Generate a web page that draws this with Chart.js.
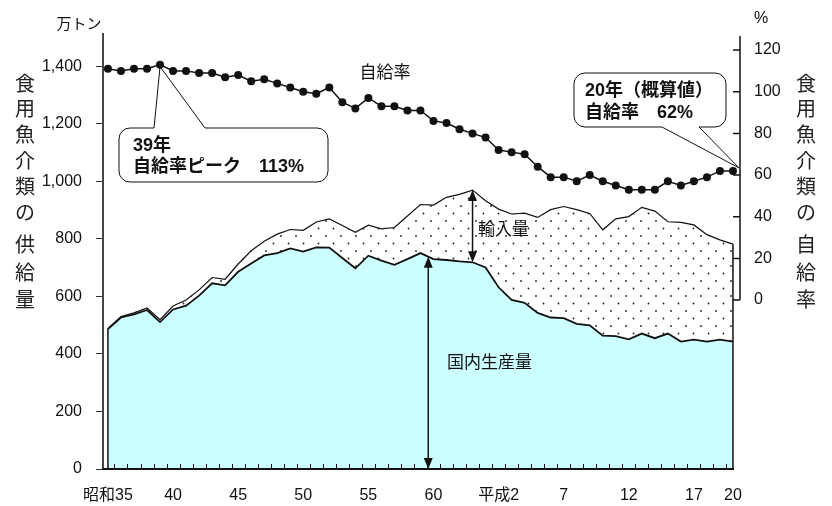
<!DOCTYPE html>
<html>
<head>
<meta charset="utf-8">
<script src="https://cdn.jsdelivr.net/npm/chart.js@4.4.1/dist/chart.umd.min.js"></script>
<style>
  html, body { margin: 0; padding: 0; background: #fff; }
  #wrap { width: 832px; height: 506px; }
</style>
</head>
<body>
<div id="wrap"><canvas id="fishChart" width="832" height="506"></canvas></div>
<script>
// 食用魚介類の供給量（国内生産量＋輸入量）と自給率　昭和35年〜平成20年
const years = [
  1960, 1961, 1962, 1963, 1964, 1965, 1966, 1967, 1968, 1969,
  1970, 1971, 1972, 1973, 1974, 1975, 1976, 1977, 1978, 1979,
  1980, 1981, 1982, 1983, 1984, 1985, 1986, 1987, 1988, 1989,
  1990, 1991, 1992, 1993, 1994, 1995, 1996, 1997, 1998, 1999,
  2000, 2001, 2002, 2003, 2004, 2005, 2006, 2007, 2008
];

// 国内生産量（万トン）
const production = [
  487, 527, 538, 553, 511, 555, 568, 603, 646, 639,
  686, 715, 743, 751, 767, 756, 771, 770, 734, 698,
  742, 725, 710, 730, 751, 730, 727, 722, 719, 701,
  632, 588, 578, 543, 527, 525, 505, 500, 464, 462,
  451, 471, 455, 471, 443, 450, 443, 450, 443
];

// 輸入量（万トン）
const imports = [
  2, 3, 5, 7, 8, 12, 20, 20, 20, 21,
  27, 44, 49, 66, 66, 74, 88, 100, 113, 125,
  106, 110, 130, 150, 169, 188, 218, 233, 251, 232,
  272, 299, 312, 332, 375, 388, 397, 389, 368, 408,
  427, 439, 442, 389, 415, 399, 372, 347, 339
];

// 自給率（％）
const selfRate = [
  111, 110, 111, 111, 113, 110, 110, 109, 109, 107,
  108, 105, 106, 104, 102, 100, 99, 102, 95, 92,
  97, 93, 93, 91, 91, 86, 85, 82, 80, 78,
  72, 71, 70, 64, 59, 59, 57, 60, 57, 55,
  53, 53, 53, 57, 55, 57, 59, 62, 62
];

// 目盛り
const xTickYears = [1960, 1965, 1970, 1975, 1980, 1985, 1990, 1995, 2000, 2005, 2008];
const xTickLabels = ["昭和35", "40", "45", "50", "55", "60", "平成2", "7", "12", "17", "20"];
const supplyTicks = [0, 200, 400, 600, 800, 1000, 1200, 1400];
const rateTicks = [0, 20, 40, 60, 80, 100, 120];

const FONT = "'Liberation Sans', Arial, 'Noto Sans CJK JP', sans-serif";
Chart.defaults.font.family = FONT;
Chart.defaults.font.size = 16;
Chart.defaults.color = '#111';

const canvas = document.getElementById('fishChart');
const ctx = canvas.getContext('2d');

// 輸入量の網掛け（点）
function dotPattern() {
  const tile = document.createElement('canvas');
  tile.width = 15;
  tile.height = 15;
  const g = tile.getContext('2d');
  g.fillStyle = '#fff';
  g.fillRect(0, 0, 15, 15);
  g.fillStyle = '#222';
  g.beginPath();
  g.arc(3.5, 3.5, 0.9, 0, Math.PI * 2);
  g.arc(11, 11, 0.9, 0, Math.PI * 2);
  g.fill();
  return ctx.createPattern(tile, 'repeat');
}

function arrowHead(c, px, py, dir) {
  c.beginPath();
  c.moveTo(px, py);
  c.lineTo(px - 4.5, py - dir * 11);
  c.lineTo(px + 4.5, py - dir * 11);
  c.closePath();
  c.fill();
}

function vArrow(c, px, top, bottom) {
  c.beginPath();
  c.moveTo(px, top + 6);
  c.lineTo(px, bottom - 6);
  c.stroke();
  arrowHead(c, px, top, -1);
  arrowHead(c, px, bottom, 1);
}

// 吹き出し（角丸の枠＋くさび）
function balloon(c, l, t, r, b, rad, side, g1, g2, tip) {
  c.beginPath();
  if (side === 'top') {
    c.moveTo(g2, t);
    c.lineTo(r - rad, t);
    c.arcTo(r, t, r, t + rad, rad);
    c.lineTo(r, b - rad);
    c.arcTo(r, b, r - rad, b, rad);
    c.lineTo(l + rad, b);
    c.arcTo(l, b, l, b - rad, rad);
    c.lineTo(l, t + rad);
    c.arcTo(l, t, l + rad, t, rad);
    c.lineTo(g1, t);
    c.lineTo(tip.x, tip.y);
    c.closePath();
  } else {
    c.moveTo(g1, b);
    c.lineTo(l + rad, b);
    c.arcTo(l, b, l, b - rad, rad);
    c.lineTo(l, t + rad);
    c.arcTo(l, t, l + rad, t, rad);
    c.lineTo(r - rad, t);
    c.arcTo(r, t, r, t + rad, rad);
    c.lineTo(r, b - rad);
    c.arcTo(r, b, r - rad, b, rad);
    c.lineTo(g2, b);
    c.lineTo(tip.x, tip.y);
    c.closePath();
  }
  c.fillStyle = '#fff';
  c.fill();
  c.strokeStyle = '#111';
  c.lineWidth = 1;
  c.stroke();
}

function verticalText(c, text, px, ys) {
  c.font = "20px 'Noto Sans CJK JP', sans-serif";
  c.textAlign = 'center';
  c.textBaseline = 'middle';
  c.fillStyle = '#222';
  [...text].forEach((ch, i) => c.fillText(ch, px, ys[i]));
}

const titleRows = [83, 108.5, 134, 160, 186.5, 212, 244, 272.5, 299.5];

const callouts = {
  id: 'callouts',
  beforeDatasetsDraw(chart) {
    const { ctx: c, scales: { x, y2 } } = chart;
    c.save();
    const peak = selfRate.indexOf(Math.max(...selfRate));
    const tip1 = { x: x.getPixelForValue(years[peak]), y: y2.getPixelForValue(selfRate[peak]) + 2 };
    balloon(c, 119, 128, 328, 182, 11, 'top', 154, 205, tip1);
    const last = years.length - 1;
    const tip2 = { x: x.getPixelForValue(years[last]) + 6, y: y2.getPixelForValue(selfRate[last]) - 3 };
    balloon(c, 574, 73, 726, 127, 11, 'bottom', 662, 699, tip2);

    c.fillStyle = '#111';
    c.font = "bold 18px " + FONT;
    c.textAlign = 'left';
    c.textBaseline = 'middle';
    c.fillText('39年', 133, 146);
    c.fillText('自給率ピーク　113%', 133, 167);
    c.fillText('20年（概算値）', 585, 91);
    c.fillText('自給率　62%', 585, 113);
    c.restore();
  }
};

const decorations = {
  id: 'decorations',
  afterDatasetsDraw(chart) {
    const { ctx: c, chartArea: a, scales: { x, y, y2 } } = chart;
    const last = years.length - 1;
    const x0 = x.getPixelForValue(years[0]);
    const xN = x.getPixelForValue(years[last]);
    const base = y.getPixelForValue(0);
    c.save();

    // 面の両端
    c.strokeStyle = '#111';
    c.lineWidth = 1.5;
    c.beginPath();
    c.moveTo(x0, base);
    c.lineTo(x0, y.getPixelForValue(production[0] + imports[0]));
    c.moveTo(xN, base);
    c.lineTo(xN, y.getPixelForValue(production[last] + imports[last]));
    c.stroke();

    // 横軸と目盛り
    c.lineWidth = 2;
    c.beginPath();
    c.moveTo(a.left - 1, base);
    c.lineTo(xN + 1, base);
    c.stroke();
    c.lineWidth = 1;
    c.beginPath();
    for (let i = 0; i < last; i++) {
      const px = Math.round(x.getPixelForValue(years[i] + 0.5)) + 0.5;
      c.moveTo(px, base);
      c.lineTo(px, base - 5);
    }
    c.stroke();

    // 右軸（自給率）
    c.lineWidth = 1.5;
    c.beginPath();
    c.moveTo(a.right, a.top + 2);
    c.lineTo(a.right, y2.getPixelForValue(0));
    rateTicks.forEach(v => {
      const py = y2.getPixelForValue(v);
      c.moveTo(a.right, py);
      c.lineTo(a.right - 7, py);
    });
    c.stroke();

    // 矢印
    c.fillStyle = '#111';
    c.lineWidth = 1.5;
    const ax = 1984.6;
    const k = years.indexOf(1984);
    const prodAt = production[k] + (production[k + 1] - production[k]) * (ax - 1984);
    vArrow(c, x.getPixelForValue(ax), y.getPixelForValue(prodAt), base);
    const m = years.indexOf(1988);
    vArrow(c, x.getPixelForValue(1988),
      y.getPixelForValue(production[m] + imports[m]),
      y.getPixelForValue(production[m]));

    // ラベル
    c.font = "17px 'Noto Sans CJK JP', sans-serif";
    c.textBaseline = 'middle';
    c.textAlign = 'left';
    c.fillText('輸入量', 478, 229);
    c.fillText('国内生産量', 447, 362);
    c.textAlign = 'center';
    c.fillText('自給率', 385, 72);

    // 単位・軸タイトル
    c.font = "15px 'Noto Sans CJK JP', sans-serif";
    c.fillText('万トン', 79, 23);
    c.font = "16px " + FONT;
    c.fillText('%', 761, 19);
    verticalText(c, '食用魚介類の供給量', 25, titleRows);
    verticalText(c, '食用魚介類の自給率', 806, titleRows);
    c.restore();
  }
};

new Chart(ctx, {
  type: 'line',
  data: {
    labels: years,
    datasets: [
      {
        label: '自給率',
        data: selfRate,
        yAxisID: 'y2',
        borderColor: '#111',
        borderWidth: 1.5,
        pointRadius: 4,
        pointBackgroundColor: '#111',
        pointBorderColor: '#111',
        pointBorderWidth: 0,
        fill: false,
        tension: 0,
      },
      {
        label: '国内生産量',
        data: production,
        yAxisID: 'y',
        stack: 'supply',
        borderColor: '#111',
        borderWidth: 1.8,
        backgroundColor: '#ccffff',
        pointRadius: 0,
        fill: 'origin',
        tension: 0,
      },
      {
        label: '輸入量',
        data: imports,
        yAxisID: 'y',
        stack: 'supply',
        borderColor: '#111',
        borderWidth: 1.2,
        backgroundColor: dotPattern(),
        pointRadius: 0,
        fill: '-1',
        tension: 0,
      },
    ],
  },
  options: {
    responsive: false,
    animation: false,
    devicePixelRatio: 1,
    layout: { padding: { top: 34, left: 0, right: 0, bottom: 0 } },
    plugins: {
      legend: { display: false },
      tooltip: { enabled: false },
    },
    scales: {
      x: {
        type: 'linear',
        min: 1959.62,
        max: 2008.54,
        afterFit: s => { s.height = 37; },
        afterBuildTicks: s => { s.ticks = xTickYears.map(v => ({ value: v })); },
        grid: { display: false, drawTicks: false },
        border: { display: false },
        ticks: {
          autoSkip: false,
          maxRotation: 0,
          padding: 17,
          font: { size: 16 },
          callback: v => xTickLabels[xTickYears.indexOf(v)],
        },
      },
      y: {
        min: 0,
        max: 1513,
        stacked: true,
        afterFit: s => { s.width = 103; },
        afterBuildTicks: s => { s.ticks = supplyTicks.map(v => ({ value: v })); },
        grid: { drawOnChartArea: false, drawTicks: true, tickLength: 7, color: '#333' },
        border: { display: true, color: '#444', width: 2 },
        ticks: {
          padding: 14,
          font: { size: 16 },
          callback: v => v.toLocaleString('en-US'),
        },
      },
      y2: {
        position: 'right',
        min: -81.1,
        max: 127.7,
        afterFit: s => { s.width = 92; },
        afterBuildTicks: s => { s.ticks = rateTicks.map(v => ({ value: v })); },
        grid: { display: false, drawTicks: false },
        border: { display: false },
        ticks: {
          padding: 14,
          font: { size: 16 },
        },
      },
    },
  },
  plugins: [callouts, decorations],
});
</script>
</body>
</html>
